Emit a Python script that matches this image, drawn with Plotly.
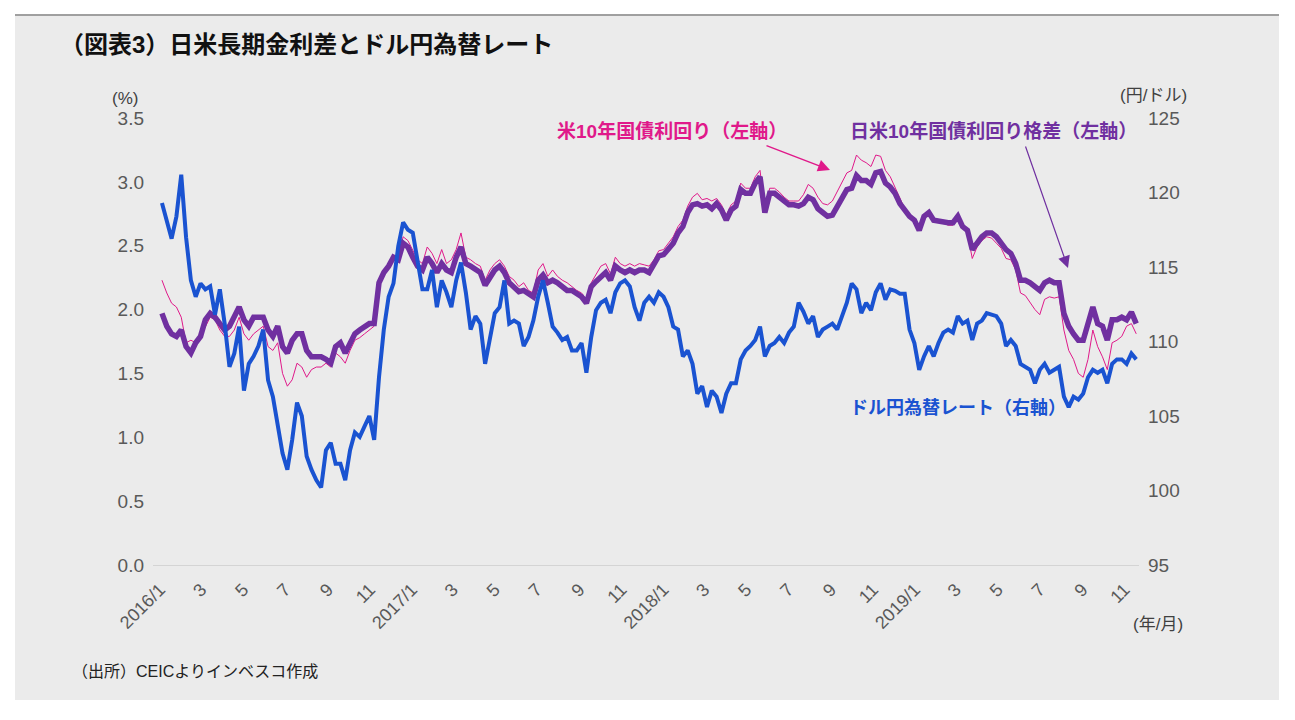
import pandas as pd
import plotly.graph_objects as go

# ---- data (weekly readings, Monday grid) ----
dates = pd.date_range("2016-01-04", periods=203, freq="7D")

usdjpy = [
119.3,118.1,116.9,118.4,121.2,117.0,114.1,113.0,113.9,113.5,
113.7,111.8,113.5,111.2,108.3,109.2,111.0,106.7,108.5,109.0,
109.7,110.8,107.4,106.3,104.3,102.5,101.4,103.4,105.9,105.0,
102.3,101.4,100.7,100.2,102.7,103.2,101.8,101.8,100.7,102.7,
103.9,103.6,104.3,105.0,103.4,107.6,110.8,113.0,113.9,116.4,
118.0,117.5,117.3,115.5,113.5,113.5,114.8,112.3,114.1,113.3,
112.3,114.1,115.3,113.3,110.8,111.7,111.2,108.5,110.3,111.9,
112.3,114.1,111.2,111.4,111.2,109.7,110.3,111.4,113.0,114.1,
112.6,111.0,110.6,110.1,110.3,109.4,109.4,109.9,107.9,110.3,
112.1,112.6,112.8,111.9,113.3,113.9,114.1,113.7,112.3,111.4,
112.6,113.0,112.6,113.3,113.0,112.3,111.0,110.8,109.0,109.4,
108.5,106.5,107.0,105.6,106.7,106.3,105.2,106.5,107.2,107.2,
108.8,109.4,109.7,110.1,111.0,109.0,109.7,109.9,110.3,109.9,
110.6,111.0,112.6,112.0,111.2,111.7,110.3,110.8,111.0,111.2,
110.8,111.7,112.6,113.9,113.5,111.9,112.6,112.1,113.3,113.9,
112.8,113.5,113.4,113.2,113.2,110.8,109.9,108.1,109.0,109.7,
109.0,109.9,110.6,110.8,110.6,111.7,111.2,111.4,110.1,111.2,
111.4,111.9,111.8,111.7,111.2,109.7,110.1,109.7,108.5,108.3,
108.1,107.2,108.1,108.5,107.9,108.1,108.3,106.3,105.6,106.3,
106.1,106.5,107.6,108.1,107.9,108.1,107.2,108.5,108.8,108.8,
108.5,109.2,108.8]

spread = [
1.97,1.87,1.81,1.79,1.84,1.71,1.66,1.74,1.79,1.92,
1.97,1.94,1.89,1.84,1.87,1.94,2.02,1.92,1.87,1.94,
1.94,1.94,1.84,1.79,1.87,1.71,1.66,1.76,1.81,1.81,
1.68,1.63,1.63,1.63,1.61,1.58,1.71,1.74,1.66,1.74,
1.81,1.84,1.87,1.89,1.89,2.21,2.29,2.34,2.41,2.39,
2.52,2.49,2.41,2.34,2.31,2.41,2.36,2.29,2.36,2.31,
2.29,2.41,2.49,2.36,2.34,2.31,2.29,2.19,2.26,2.31,
2.34,2.29,2.21,2.18,2.14,2.15,2.13,2.10,2.23,2.27,
2.21,2.23,2.21,2.18,2.15,2.15,2.13,2.10,2.05,2.18,
2.22,2.26,2.29,2.23,2.34,2.31,2.29,2.31,2.29,2.31,
2.31,2.29,2.35,2.42,2.43,2.47,2.52,2.60,2.65,2.76,
2.82,2.83,2.81,2.82,2.79,2.83,2.78,2.70,2.78,2.81,
2.94,2.91,2.91,2.99,3.04,2.76,2.91,2.91,2.88,2.86,
2.82,2.82,2.81,2.83,2.88,2.86,2.79,2.76,2.73,2.74,
2.81,2.86,2.94,2.95,3.05,3.01,3.01,2.98,3.07,3.08,
2.99,2.96,2.91,2.83,2.78,2.73,2.70,2.62,2.73,2.76,
2.70,2.69,2.69,2.68,2.68,2.73,2.65,2.62,2.47,2.52,
2.57,2.60,2.60,2.57,2.52,2.47,2.44,2.36,2.23,2.23,
2.21,2.18,2.15,2.21,2.23,2.21,2.21,1.97,1.87,1.81,
1.76,1.76,1.89,2.02,1.89,1.87,1.76,1.92,1.92,1.94,
1.92,1.98,1.89]

us10y = [
2.23,2.13,2.05,2.02,1.94,1.74,1.76,1.74,1.79,1.87,
1.94,1.92,1.84,1.79,1.79,1.84,1.94,1.81,1.76,1.81,
1.84,1.87,1.71,1.68,1.74,1.50,1.40,1.45,1.58,1.55,
1.47,1.53,1.55,1.55,1.58,1.55,1.66,1.63,1.58,1.68,
1.76,1.78,1.81,1.84,1.87,2.21,2.31,2.34,2.39,2.41,
2.57,2.54,2.47,2.39,2.36,2.49,2.44,2.36,2.47,2.36,
2.39,2.47,2.60,2.41,2.39,2.36,2.34,2.23,2.31,2.36,
2.39,2.34,2.26,2.23,2.18,2.21,2.15,2.13,2.31,2.36,
2.26,2.31,2.26,2.23,2.21,2.18,2.15,2.13,2.08,2.21,
2.28,2.34,2.36,2.28,2.41,2.36,2.34,2.36,2.34,2.36,
2.35,2.34,2.39,2.46,2.47,2.52,2.57,2.65,2.70,2.81,
2.88,2.91,2.86,2.87,2.85,2.87,2.82,2.74,2.82,2.85,
2.99,2.95,2.95,3.04,3.09,2.78,2.95,2.95,2.92,2.88,
2.85,2.85,2.85,2.90,2.98,2.95,2.88,2.83,2.82,2.85,
2.92,2.99,3.07,3.09,3.21,3.17,3.15,3.12,3.21,3.20,
3.09,3.04,2.96,2.87,2.79,2.75,2.71,2.62,2.74,2.75,
2.70,2.69,2.68,2.66,2.66,2.71,2.64,2.60,2.40,2.49,
2.54,2.57,2.56,2.52,2.48,2.40,2.39,2.31,2.13,2.11,
2.05,2.00,1.96,2.08,2.10,2.09,2.10,1.84,1.68,1.61,
1.50,1.47,1.61,1.84,1.71,1.63,1.53,1.74,1.76,1.79,
1.87,1.89,1.81]

tick_dates = ["2016-01-01","2016-03-01","2016-05-01","2016-07-01","2016-09-01","2016-11-01",
              "2017-01-01","2017-03-01","2017-05-01","2017-07-01","2017-09-01","2017-11-01",
              "2018-01-01","2018-03-01","2018-05-01","2018-07-01","2018-09-01","2018-11-01",
              "2019-01-01","2019-03-01","2019-05-01","2019-07-01","2019-09-01","2019-11-01"]
tick_text = ["2016/1","3","5","7","9","11","2017/1","3","5","7","9","11",
             "2018/1","3","5","7","9","11","2019/1","3","5","7","9","11"]

# ---- style ----
FONT = "Liberation Sans, Arial, Noto Sans CJK JP, sans-serif"
C_BLUE = "#1a53d1"
C_PURPLE = "#7030a0"
C_MAGENTA = "#e0198a"
C_TICK = "#595959"
BG = "#ebebeb"

L, R, T, B = 153, 1139, 118, 565
def PX(x):
    return (x - L) / (R - L)
def PY(y):
    return (B - y) / (B - T)

fig = go.Figure()
fig.add_trace(go.Scatter(x=dates, y=us10y, mode="lines", name="米10年国債利回り",
                         line=dict(color=C_MAGENTA, width=1), yaxis="y"))
fig.add_trace(go.Scatter(x=dates, y=spread, mode="lines", name="日米10年国債利回り格差",
                         line=dict(color=C_PURPLE, width=5.5), yaxis="y"))
fig.add_trace(go.Scatter(x=dates, y=usdjpy, mode="lines", name="ドル円為替レート",
                         line=dict(color=C_BLUE, width=4), yaxis="y2"))

fig.update_layout(
    width=1295, height=720,
    margin=dict(l=L, r=1295 - R, t=T, b=720 - B, pad=0),
    paper_bgcolor="white", plot_bgcolor="rgba(0,0,0,0)",
    showlegend=False,
    font=dict(family=FONT, color=C_TICK),
    xaxis=dict(type="date", range=["2015-12-22", "2019-11-22"],
               tickvals=tick_dates, ticktext=tick_text, tickangle=-45,
               tickfont=dict(size=18, color=C_TICK, family=FONT),
               showgrid=False, zeroline=False, showline=True,
               linecolor="#d4d4d4", linewidth=1, ticks="",
               ticklabelstandoff=6),
    yaxis=dict(range=[0, 3.5], dtick=0.5, tick0=0, tickformat=".1f",
               tickfont=dict(size=19, color=C_TICK, family=FONT),
               showgrid=False, zeroline=False, showline=False, ticks="",
               ticklabelstandoff=8),
    yaxis2=dict(range=[95, 125], dtick=5, tick0=95, overlaying="y", side="right",
                tickfont=dict(size=19, color=C_TICK, family=FONT),
                showgrid=False, zeroline=False, showline=False, ticks="",
                ticklabelstandoff=8),
)

shapes = [
    dict(type="rect", xref="paper", yref="paper", x0=PX(15), x1=PX(1279),
         y0=PY(700), y1=PY(16), fillcolor=BG, line=dict(width=0), layer="below"),
    dict(type="line", xref="paper", yref="paper", x0=PX(15), x1=PX(1279),
         y0=PY(15), y1=PY(15), line=dict(color="#404040", width=1), layer="below"),
]
fig.update_layout(shapes=shapes)

ann = []
ann.append(dict(text="<b>（図表3）日米長期金利差とドル円為替レート</b>", x=PX(58), y=PY(45),
                xref="paper", yref="paper", xanchor="left", yanchor="middle", showarrow=False,
                font=dict(size=24, color="#111111", family=FONT)))
ann.append(dict(text="(%)", x=PX(125), y=PY(98), xref="paper", yref="paper",
                xanchor="center", yanchor="middle", showarrow=False,
                font=dict(size=17, color="#404040", family=FONT)))
ann.append(dict(text="(円/ドル)", x=PX(1153), y=PY(96), xref="paper", yref="paper",
                xanchor="center", yanchor="middle", showarrow=False,
                font=dict(size=17, color="#404040", family=FONT)))
ann.append(dict(text="(年/月)", x=PX(1158), y=PY(624), xref="paper", yref="paper",
                xanchor="center", yanchor="middle", showarrow=False,
                font=dict(size=17, color="#404040", family=FONT)))
ann.append(dict(text="（出所）CEICよりインベスコ作成", x=PX(70), y=PY(671), xref="paper", yref="paper",
                xanchor="left", yanchor="middle", showarrow=False,
                font=dict(size=16, color="#222222", family=FONT)))
ann.append(dict(text="<b>米10年国債利回り（左軸）</b>", x=PX(555), y=PY(131), xref="paper", yref="paper",
                xanchor="left", yanchor="middle", showarrow=False,
                font=dict(size=19, color=C_MAGENTA, family=FONT)))
ann.append(dict(text="<b>日米10年国債利回り格差（左軸）</b>", x=PX(848), y=PY(131), xref="paper", yref="paper",
                xanchor="left", yanchor="middle", showarrow=False,
                font=dict(size=19, color=C_PURPLE, family=FONT)))
ann.append(dict(text="<b>ドル円為替レート（右軸）</b>", x=PX(848), y=PY(408), xref="paper", yref="paper",
                xanchor="left", yanchor="middle", showarrow=False,
                font=dict(size=18, color=C_BLUE, family=FONT)))
# arrows
ann.append(dict(text="", x=PX(830), y=PY(170), xref="paper", yref="paper",
                ax=765 - 830, ay=145 - 170, showarrow=True, arrowhead=2, arrowsize=1.6,
                arrowwidth=1.5, arrowcolor=C_MAGENTA, standoff=0))
ann.append(dict(text="", x=PX(1068), y=PY(268), xref="paper", yref="paper",
                ax=1025 - 1068, ay=145 - 268, showarrow=True, arrowhead=2, arrowsize=2,
                arrowwidth=1.2, arrowcolor=C_PURPLE, standoff=0))
fig.update_layout(annotations=ann)

fig.write_html("out.html", config={"displayModeBar": False},
               post_script="document.body.style.margin='0';document.body.style.overflow='hidden';")
